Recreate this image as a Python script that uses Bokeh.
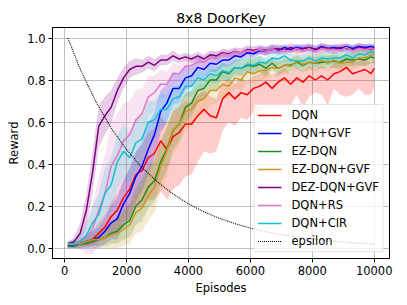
from bokeh.plotting import figure
from bokeh.embed import file_html
from bokeh.resources import INLINE
from bokeh.models import FixedTicker, PrintfTickFormatter, Legend, LegendItem, Range1d
import numpy as np

episodes = [100, 300, 500, 700, 900, 1100, 1300, 1500, 1700, 1900,
            2100, 2300, 2500, 2700, 2900, 3100, 3300, 3500, 3700, 3900,
            4100, 4300, 4500, 4700, 4900, 5100, 5300, 5500, 5700, 5900,
            6100, 6300, 6500, 6700, 6900, 7100, 7300, 7500, 7700, 7900,
            8100, 8300, 8500, 8700, 8900, 9100, 9300, 9500, 9700, 9900, 10000]

dqn = [.01, .01, .02, .03, .04, .07, .10, .15, .18, .24,
       .28, .35, .37, .43, .45, .51, .47, .53, .55, .59,
       .59, .63, .66, .63, .62, .71, .74, .71, .74, .73,
       .76, .77, .79, .76, .79, .81, .78, .81, .79, .82,
       .80, .82, .80, .83, .84, .86, .83, .84, .85, .83, .855]
dqn_lo = [.01, .01, .02, .02, .03, .04, .06, .08, .10, .12,
          .14, .16, .18, .20, .22, .24, .24, .25, .25, .25,
          .24, .22, .20, .18, .16, .15, .14, .13, .12, .12,
          .11, .12, .12, .10, .12, .14, .10, .08, .12, .10,
          .06, .09, .12, .07, .11, .14, .10, .08, .12, .10, .09]
dqn_hi = [.01, .01, .02, .03, .04, .05, .06, .07, .08, .09,
          .10, .11, .12, .12, .12, .12, .12, .12, .12, .11,
          .10, .10, .09, .09, .09, .08, .07, .07, .07, .06,
          .06, .06, .06, .06, .05, .05, .05, .05, .05, .05,
          .05, .05, .05, .05, .05, .05, .05, .05, .05, .05, .05]

dqn_gvf = [.01, .01, .02, .03, .04, .05, .08, .12, .14, .21,
           .26, .34, .39, .47, .54, .65, .69, .76, .76, .81,
           .82, .86, .85, .88, .875, .895, .895, .915, .91, .93,
           .925, .94, .935, .95, .94, .955, .945, .955, .95, .955,
           .945, .96, .95, .955, .95, .96, .95, .96, .955, .96, .955]
dqn_gvf_hw = [.01, .01, .02, .03, .04, .05, .06, .08, .10, .11,
              .12, .12, .12, .12, .11, .10, .09, .08, .07, .06,
              .05, .05, .04, .04, .04, .03, .03, .03, .02, .02,
              .02, .02, .02, .02, .02, .015, .015, .015, .015, .015,
              .015, .015, .015, .015, .015, .015, .015, .015, .015, .015, .015]

ez_dqn = [.01, .01, .02, .02, .03, .04, .05, .07, .08, .11,
          .13, .20, .23, .29, .32, .41, .47, .56, .59, .67,
          .69, .75, .76, .80, .80, .84, .83, .86, .855, .87,
          .865, .875, .855, .88, .855, .87, .87, .885, .87, .885,
          .88, .885, .885, .89, .885, .90, .895, .90, .895, .91, .905]
ez_dqn_hw = [.01, .01, .01, .02, .02, .03, .04, .05, .06, .07,
             .08, .09, .10, .10, .10, .10, .10, .09, .08, .07,
             .06, .06, .05, .05, .05, .04, .04, .04, .04, .04,
             .04, .04, .04, .03, .03, .03, .03, .03, .03, .03,
             .03, .03, .03, .03, .03, .03, .03, .03, .03, .03, .03]

ez_dqn_gvf = [.02, .02, .02, .03, .04, .04, .05, .06, .07, .09,
              .11, .17, .19, .25, .29, .39, .46, .56, .59, .65,
              .66, .70, .71, .75, .75, .78, .77, .81, .80, .84,
              .83, .845, .845, .86, .855, .87, .865, .89, .875, .885,
              .88, .895, .88, .895, .88, .885, .885, .905, .905, .92, .92]
ez_dqn_gvf_hw = [.01, .01, .02, .02, .03, .04, .05, .06, .07, .08,
                 .09, .10, .11, .12, .12, .12, .12, .11, .10, .09,
                 .08, .08, .07, .07, .06, .06, .06, .05, .05, .05,
                 .05, .05, .04, .04, .04, .04, .04, .04, .04, .04,
                 .04, .04, .04, .04, .04, .04, .04, .04, .04, .04, .04]

dez_dqn_gvf = [.02, .03, .07, .18, .36, .58, .63, .67, .75, .81,
               .85, .865, .865, .885, .87, .895, .895, .915, .90, .91,
               .90, .915, .90, .92, .915, .93, .925, .935, .93, .945,
               .94, .945, .94, .945, .95, .94, .955, .945, .95, .955,
               .945, .955, .95, .945, .955, .95, .945, .955, .95, .945, .95]
dez_dqn_gvf_hw = [.01, .02, .05, .08, .10, .10, .09, .08, .06, .05,
                  .04, .04, .03, .03, .03, .025, .025, .025, .02, .02,
                  .02, .02, .02, .02, .02, .02, .02, .02, .02, .02,
                  .02, .02, .02, .02, .02, .02, .02, .02, .02, .02,
                  .02, .02, .02, .02, .02, .02, .02, .02, .02, .02, .02]

dqn_rs = [.02, .02, .03, .05, .09, .18, .26, .39, .44, .51,
          .54, .61, .64, .72, .74, .78, .78, .83, .83, .865,
          .87, .885, .885, .905, .905, .925, .92, .935, .93, .94,
          .935, .945, .935, .95, .935, .94, .935, .95, .935, .95,
          .935, .95, .945, .945, .94, .955, .94, .95, .945, .95, .945]
dqn_rs_hw = [.01, .02, .04, .08, .12, .16, .18, .20, .20, .18,
             .16, .14, .12, .10, .08, .07, .06, .05, .04, .04,
             .03, .03, .03, .03, .03, .02, .02, .02, .02, .02,
             .02, .02, .02, .02, .02, .02, .02, .02, .02, .02,
             .02, .02, .02, .02, .02, .02, .02, .02, .02, .02, .02]

dqn_cir = [.02, .02, .03, .06, .12, .16, .26, .30, .41, .46,
           .43, .50, .52, .60, .61, .66, .66, .71, .72, .77,
           .77, .81, .80, .83, .82, .845, .835, .86, .855, .875,
           .87, .885, .88, .905, .90, .915, .895, .89, .89, .905,
           .89, .905, .90, .905, .905, .92, .905, .925, .92, .935, .93]
dqn_cir_hw = [.01, .02, .03, .05, .08, .10, .12, .13, .13, .13,
              .12, .12, .11, .10, .09, .08, .07, .06, .06, .05,
              .05, .05, .04, .04, .04, .04, .04, .03, .03, .03,
              .03, .03, .03, .03, .03, .03, .03, .03, .03, .03,
              .03, .03, .03, .03, .03, .03, .03, .03, .03, .03, .03]

eps_episodes = [100, 500, 1000, 1500, 2000, 2500, 3000, 3500, 4000, 4500, 5000,
                5500, 6000, 6500, 7000, 7500, 8000, 8500, 9000, 9500, 10000]
epsilon = [1.0, 0.852, 0.698, 0.571, 0.468, 0.383, 0.314, 0.257, 0.210, 0.172, 0.141,
           0.116, 0.095, 0.077, 0.063, 0.052, 0.043, 0.035, 0.029, 0.023, 0.019]

series = [
    ("DQN", dqn, None, "#ff0000"),
    ("DQN+GVF", dqn_gvf, dqn_gvf_hw, "#0000ff"),
    ("EZ-DQN", ez_dqn, ez_dqn_hw, "#228b22"),
    ("EZ-DQN+GVF", ez_dqn_gvf, ez_dqn_gvf_hw, "#c8961e"),
    ("DEZ-DQN+GVF", dez_dqn_gvf, dez_dqn_gvf_hw, "#800080"),
    ("DQN+RS", dqn_rs, dqn_rs_hw, "#e377c2"),
    ("DQN+CIR", dqn_cir, dqn_cir_hw, "#17becf"),
]

FONT = "DejaVu Sans"

p = figure(width=399, height=297, output_backend="svg", toolbar_location=None,
           x_range=Range1d(-395, 10495), y_range=Range1d(-0.05, 1.05),
           min_border_left=52, min_border_right=10, min_border_top=27, min_border_bottom=39)

p.title.text = "8x8 DoorKey"
p.title.text_font = FONT
p.title.text_font_size = "14px"
p.title.text_font_style = "normal"
p.title.text_color = "black"
p.title.align = "center"
p.title.offset = 0
p.title.standoff = 4

x = np.array(episodes)
items = []
for name, mean, hw, col in series:
    m = np.array(mean)
    if hw is None:
        lo = m - np.array(dqn_lo)
        hi = m + np.array(dqn_hi)
    else:
        lo = m - np.array(hw)
        hi = m + np.array(hw)
    p.varea(x=x, y1=lo, y2=hi, fill_color=col, fill_alpha=0.2)
for name, mean, hw, col in series:
    r = p.line(x, mean, line_color=col, line_width=1.5)
    items.append(LegendItem(label=name, renderers=[r]))

re = p.line(eps_episodes, epsilon, line_color="black", line_width=1.1, line_dash="1 1")
items.append(LegendItem(label="epsilon", renderers=[re]))

legend = Legend(items=items, location="bottom_right")
legend.label_text_font = FONT
legend.label_text_font_size = "11.5px"
legend.label_text_color = "black"
legend.label_height = 14
legend.glyph_height = 14
legend.glyph_width = 24
legend.spacing = 4
legend.padding = 3
legend.margin = 6
legend.label_standoff = 10
legend.border_line_color = "#cccccc"
legend.background_fill_alpha = 0.8
p.add_layout(legend)

p.xaxis.ticker = FixedTicker(ticks=[0, 2000, 4000, 6000, 8000, 10000])
p.yaxis.ticker = FixedTicker(ticks=[0.0, 0.2, 0.4, 0.6, 0.8, 1.0])
p.yaxis.formatter = PrintfTickFormatter(format="%.1f")
p.xaxis.axis_label = "Episodes"
p.yaxis.axis_label = "Reward"
for ax in (p.xaxis, p.yaxis):
    ax.axis_label_text_font = FONT
    ax.axis_label_text_font_size = "11.5px"
    ax.axis_label_text_font_style = "normal"
    ax.axis_label_text_color = "black"
    ax.major_label_text_font = FONT
    ax.major_label_text_font_size = "11.5px"
    ax.major_label_text_color = "black"
    ax.minor_tick_line_color = None
    ax.major_tick_out = 4
    ax.major_tick_in = 0
    ax.axis_line_color = "black"
    ax.major_tick_line_color = "black"
    ax.major_label_standoff = 3
    ax.axis_label_standoff = 3
p.outline_line_color = "black"
p.outline_line_alpha = 1
p.grid.grid_line_color = "#b0b0b0"
p.grid.grid_line_alpha = 0.8
p.background_fill_color = "white"
p.border_fill_color = "white"

open("out.html", "w").write(file_html(p, INLINE))
